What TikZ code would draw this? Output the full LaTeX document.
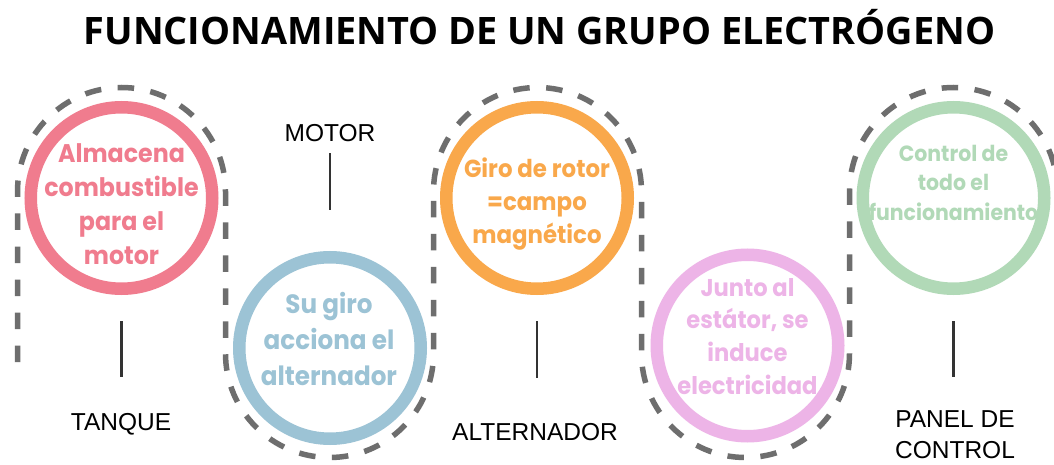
\documentclass[tikz,border=0pt]{standalone}
\usepackage{fontspec}
\setmainfont{Liberation Sans}
\newfontfamily\titlefont{Open Sans}
\newfontfamily\circfont{Poppins}[FakeStretch=0.93]
\definecolor{redc}{HTML}{F07C8E}
\definecolor{bluec}{HTML}{9CC3D5}
\definecolor{orangec}{HTML}{F9A84B}
\definecolor{pinkc}{HTML}{EDB4E7}
\definecolor{greenc}{HTML}{B1D9B7}
\definecolor{dashgray}{HTML}{6E6E6E}
\definecolor{conngray}{HTML}{333333}
\tikzset{
  ring/.style={circle, draw, line width=12.5pt, minimum size=181.5pt, inner sep=0pt},
  dashpath/.style={draw=dashgray, line width=5.5pt, dash pattern=on 16.5pt off 16.5pt},
  conn/.style={draw=conngray, line width=2.5pt},
  lbl/.style={font=\fontsize{24.5}{31.5}\selectfont, anchor=base, inner sep=0pt, text=black},
  ctext/.style={anchor=base, inner sep=0pt},
  cfont/.style 2 args={font=\circfont\bfseries\fontsize{#1}{#2}\selectfont}
}
\begin{document}
\begin{tikzpicture}[x=1pt,y=1pt]
\useasboundingbox (0,0) rectangle (1054,464);
\fill[white] (0,0) rectangle (1054,464);
\clip (0,0) rectangle (1054,464);
% title
\node[font=\titlefont\bfseries\fontsize{37.8}{40}\selectfont, anchor=base, inner sep=0pt] (title) at (539.5,419) {FUNCIONAMIENTO DE UN GRUPO ELECTRÓGENO};
% serpentine dashed line
\coordinate (s0) at (17.5,102);
\draw[dashpath] (s0) -- (17.5,272.5) arc[start angle=180, end angle=0, radius=104]
  -- (225.5,110.5) arc[start angle=180, end angle=360, radius=104]
  -- (433.5,272.5) arc[start angle=180, end angle=0, radius=104]
  -- (641.5,110.5) arc[start angle=180, end angle=360, radius=104]
  -- (849.5,272.5) arc[start angle=180, end angle=0, radius=104]
  -- (1057.5,102);
% circles
\node[ring, draw=redc] (red) at (121.5,266) {};
\node[ring, draw=bluec] (blue) at (330,116) {};
\node[ring, draw=orangec] (orange) at (537,266) {};
\node[ring, draw=pinkc] (pink) at (747.5,118.5) {};
\node[ring, draw=greenc] (green) at (953.5,266) {};
% circle texts
\node[ctext, cfont={25.5}{34}, text=redc] (tred) at (121.5,301) {\begin{tabular}[t]{@{}c@{}}Almacena\\combustible\\para el\\motor\end{tabular}};
\node[ctext, cfont={26.5}{36}, text=bluec] (tblue) at (329,151) {\begin{tabular}[t]{@{}c@{}}Su giro\\acciona el\\alternador\end{tabular}};
\node[ctext, cfont={24.6}{33}, text=orangec] (torange) at (537,286) {\begin{tabular}[t]{@{}c@{}}Giro de rotor\\=campo\\magnético\end{tabular}};
\node[ctext, cfont={24.3}{32.7}, text=pinkc] (tpink) at (747.5,168) {\begin{tabular}[t]{@{}c@{}}Junto al\\estátor, se\\induce\\electricidad\end{tabular}};
\node[ctext, cfont={22}{29.3}, text=greenc] (tgreen) at (953.5,302.3) {\begin{tabular}[t]{@{}c@{}}Control de\\todo el\\funcionamiento\end{tabular}};
% labels
\node[lbl] (motor) at (330,322.3) {MOTOR};
\node[lbl] (tanque) at (121,34) {TANQUE};
\node[lbl] (alt) at (535,24) {ALTERNADOR};
\node[lbl] (panel) at (955,37) {\begin{tabular}[t]{@{}c@{}}PANEL DE\\CONTROL\end{tabular}};
% connectors
\draw[conn] (red.south) ++(0,-26) -- ++(0,-56);
\draw[conn] (blue.north) ++(0,41) -- ++(0,57);
\draw[conn] (orange.south) ++(0,-26) -- ++(0,-57);
\draw[conn] (green.south) ++(0,-26) -- ++(0,-56);
\end{tikzpicture}
\end{document}
